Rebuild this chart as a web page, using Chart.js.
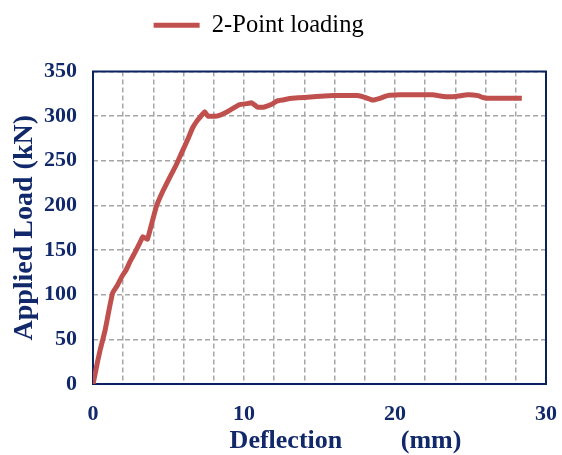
<!DOCTYPE html>
<html>
<head>
<meta charset="utf-8">
<script src="https://cdn.jsdelivr.net/npm/chart.js@4"></script>
<style>
  html, body { margin: 0; padding: 0; background: #fff; }
  #wrap { width: 562px; height: 455px; }
</style>
</head>
<body>
<div id="wrap"><canvas id="loadChart" width="562" height="455"></canvas></div>
<script>
// load-deflection curve, 2-point loading test
const deflection = [0, 0.15, 0.3, 0.5, 0.8, 1.05, 1.3, 1.6, 1.9, 2.2, 2.45, 2.8, 3.1, 3.3, 3.6, 3.8,
    4.2, 4.6, 5.1, 5.5, 5.9, 6.3, 6.6, 6.9, 7.1, 7.4, 7.6, 8.2, 8.9, 9.4, 9.7, 10.2, 10.5, 10.9,
    11.3, 11.8, 12.2, 12.8, 13.2, 14.0, 14.8, 15.9, 16.8, 17.5, 18.0, 18.5, 19.0, 19.5, 20.3,
    21.5, 22.5, 23.2, 24.0, 24.8, 25.5, 25.8, 26.1, 27.0, 28.4];
const load = [0, 12, 25, 40, 60, 82, 102, 110, 120, 128, 137, 148, 158, 165, 162, 174,
    199, 215, 232, 245, 260, 275, 287, 295, 299, 305, 300, 300, 305, 310, 313, 314, 315, 310,
    310, 313, 317, 319, 320, 321, 322, 323, 323, 323, 321, 318, 320, 323, 324,
    324, 324, 322, 322, 324, 323, 321, 320, 320, 320];
const xTicks = [0, 10, 20, 30];
const yTicks = [0, 50, 100, 150, 200, 250, 300, 350];

const navy = '#11296a';
const serif = "'Liberation Serif', 'Times New Roman', serif";

// box around the plot area
const frame = {
    id: 'frame',
    beforeDatasetsDraw(chart) {
        const { ctx, chartArea: a } = chart;
        ctx.save();
        ctx.strokeStyle = '#0b2260';
        ctx.lineWidth = 2;
        ctx.strokeRect(a.left, a.top, a.right - a.left, a.bottom - a.top);
        ctx.restore();
    }
};

// extra space under the legend
const legendGap = {
    id: 'legendGap',
    beforeInit(chart) {
        const fit = chart.legend.fit;
        chart.legend.fit = function () {
            fit.bind(chart.legend)();
            this.height += 24;
        };
    }
};

new Chart(document.getElementById('loadChart'), {
    type: 'line',
    data: {
        datasets: [{
            label: '2-Point loading      ',
            data: deflection.map((d, i) => ({ x: d, y: load[i] })),
            borderColor: '#c0504d',
            backgroundColor: '#c0504d',
            borderWidth: 5,
            pointRadius: 0,
            tension: 0.1,
            fill: false
        }]
    },
    options: {
        responsive: false,
        animation: false,
        layout: { padding: { left: 8, right: 16, top: 7, bottom: 0 } },
        plugins: {
            legend: {
                labels: {
                    usePointStyle: true,
                    pointStyle: 'line',
                    pointStyleWidth: 46,
                    color: '#000',
                    font: { family: serif, size: 24.5 },
                    padding: 6
                }
            },
            tooltip: { enabled: false }
        },
        scales: {
            x: {
                type: 'linear',
                min: 0,
                max: 30,
                afterFit: s => { s.height = 71; s.paddingRight = 0; s.paddingLeft = 0; },
                grid: { color: '#a6a6a6', lineWidth: 1.5, drawTicks: false },
                border: { display: false, dash: [5, 3] },
                ticks: {
                    stepSize: 2,
                    autoSkip: false,
                    maxRotation: 0,
                    padding: 17,
                    color: navy,
                    font: { family: serif, size: 22, weight: 'bold' },
                    callback: v => xTicks.includes(v) ? v : ''
                },
                title: {
                    display: true,
                    text: '        Deflection         (mm)',
                    color: navy,
                    font: { family: serif, size: 26, weight: 'bold' },
                    padding: { top: 0, bottom: -2 }
                }
            },
            y: {
                min: 0,
                max: 350,
                afterFit: s => { s.width = 85; },
                grid: { color: '#a6a6a6', lineWidth: 1.5, drawTicks: false },
                border: { display: false, dash: [5, 3] },
                ticks: {
                    stepSize: 50,
                    padding: 16,
                    color: navy,
                    font: { family: serif, size: 22, weight: 'bold' },
                    callback: v => yTicks.includes(v) ? v : ''
                },
                title: {
                    display: true,
                    text: 'Applied Load (kN)',
                    color: navy,
                    font: { family: serif, size: 28, weight: 'bold' },
                    padding: { top: 0, bottom: 4 }
                }
            }
        }
    },
    plugins: [frame, legendGap]
});
</script>
</body>
</html>
